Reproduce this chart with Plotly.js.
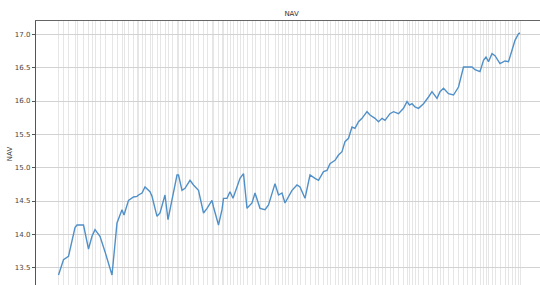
<!DOCTYPE html>
<html>
<head>
<meta charset="utf-8">
<script src="https://cdn.plot.ly/plotly-3.0.1.min.js"></script>
<style>
html,body{margin:0;padding:0;overflow:hidden;background:#fff;}
#chart{width:545px;height:300px;}
</style>
</head>
<body>
<div id="chart"></div>
<script>
// day offset from start of series
const days = [0,10,20,33,37,50,60,67,73,83,93,107,117,127,131,140,150,157,160,167,173,183,187,197,203,213,219,227,237,240,247,253,263,270,280,290,297,307,310,320,327,330,337,343,349,357,363,370,377,387,393,403,413,420,433,440,447,453,460,467,477,483,493,503,513,520,530,537,543,553,560,567,573,580,587,593,600,607,617,623,633,640,647,653,663,670,680,690,697,702,707,713,720,730,740,747,757,763,770,780,790,800,810,817,827,833,843,850,855,860,867,873,883,893,900,907,913,920,923];
const nav = [13.39,13.62,13.67,14.10,14.14,14.14,13.78,13.97,14.07,13.97,13.74,13.39,14.17,14.37,14.29,14.51,14.56,14.57,14.59,14.62,14.71,14.64,14.57,14.27,14.32,14.59,14.22,14.51,14.89,14.89,14.66,14.69,14.81,14.74,14.66,14.32,14.39,14.51,14.41,14.14,14.37,14.54,14.54,14.64,14.54,14.71,14.84,14.91,14.39,14.47,14.62,14.39,14.37,14.44,14.76,14.59,14.62,14.47,14.57,14.66,14.74,14.71,14.54,14.89,14.84,14.81,14.94,14.96,15.06,15.11,15.19,15.24,15.39,15.44,15.61,15.59,15.69,15.74,15.84,15.79,15.74,15.69,15.74,15.71,15.81,15.84,15.81,15.89,15.99,15.94,15.96,15.91,15.89,15.96,16.06,16.14,16.04,16.14,16.19,16.11,16.09,16.21,16.51,16.51,16.51,16.47,16.44,16.61,16.66,16.59,16.71,16.68,16.56,16.60,16.59,16.76,16.91,17.01,17.02];
const yTicks = [13.5,14.0,14.5,15.0,15.5,16.0,16.5,17.0];
const yTickText = ["13.5","14.0","14.5","15.0","15.5","16.0","16.5","17.0"];

const trace = {
  x: days, y: nav, type: 'scatter', mode: 'lines',
  line: {color: '#5090c8', width: 1.4}, hoverinfo: 'skip'
};
const layout = {
  width: 545, height: 300,
  margin: {l: 36, r: 2, t: 21, b: 13},
  paper_bgcolor: '#fff', plot_bgcolor: '#fff',
  showlegend: false,
  title: {text: 'NAV', font: {family: 'DejaVu Sans', size: 7, color: '#333'}, x: 0.535, xanchor: 'center', y: 0.955, yanchor: 'middle'},
  xaxis: {
    range: [-45, 969], tickmode: 'array', tickvals: days, showticklabels: false,
    showgrid: true, gridcolor: '#e6e6e6', gridwidth: 1, zeroline: false,
    showline: true, mirror: false, side: 'top', linecolor: '#666', linewidth: 1, ticks: ''
  },
  yaxis: {
    range: [13.21, 17.20], tickmode: 'array', tickvals: yTicks, ticktext: yTickText,
    showgrid: true, gridcolor: '#d2d2d2', gridwidth: 1, zeroline: false,
    showline: true, linecolor: '#555', linewidth: 1.2,
    ticks: 'outside', ticklen: 3, tickcolor: '#555',
    tickfont: {family: 'DejaVu Sans', size: 7, color: '#444'},
    title: {text: 'NAV', font: {family: 'DejaVu Sans', size: 7, color: '#444'}, standoff: 1}
  }
};
Plotly.newPlot('chart', [trace], layout, {staticPlot: true, displayModeBar: false});
</script>
</body>
</html>
